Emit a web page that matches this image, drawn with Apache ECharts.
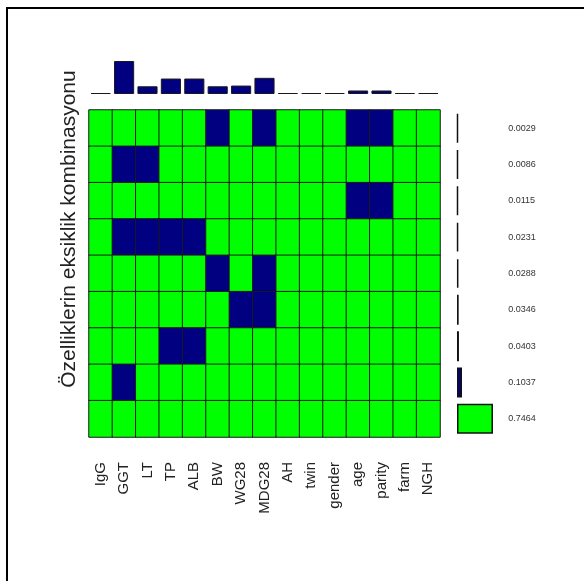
<!DOCTYPE html>
<html>
<head>
<meta charset="utf-8">
<style>
  html, body { margin: 0; padding: 0; background: #ffffff; }
  #chart { width: 584px; height: 581px; }
</style>
<script src="https://cdn.jsdelivr.net/npm/echarts@6/dist/echarts.min.js"></script>
</head>
<body>
<div id="chart"></div>
<script>
// Variables in the data set
const variables = ['IgG', 'GGT', 'LT', 'TP', 'ALB', 'BW', 'WG28', 'MDG28', 'AH', 'twin', 'gender', 'age', 'parity', 'farm', 'NGH'];

// Proportion of missing values per variable (top bars)
const missingProp = [0, 0.1354, 0.0317, 0.0634, 0.0634, 0.0317, 0.0346, 0.0663, 0, 0, 0, 0.0144, 0.0144, 0, 0];

// Missingness patterns, top to bottom (1 = missing)
const patterns = [
  [0, 0, 0, 0, 0, 1, 0, 1, 0, 0, 0, 1, 1, 0, 0],
  [0, 1, 1, 0, 0, 0, 0, 0, 0, 0, 0, 0, 0, 0, 0],
  [0, 0, 0, 0, 0, 0, 0, 0, 0, 0, 0, 1, 1, 0, 0],
  [0, 1, 1, 1, 1, 0, 0, 0, 0, 0, 0, 0, 0, 0, 0],
  [0, 0, 0, 0, 0, 1, 0, 1, 0, 0, 0, 0, 0, 0, 0],
  [0, 0, 0, 0, 0, 0, 1, 1, 0, 0, 0, 0, 0, 0, 0],
  [0, 0, 0, 1, 1, 0, 0, 0, 0, 0, 0, 0, 0, 0, 0],
  [0, 1, 0, 0, 0, 0, 0, 0, 0, 0, 0, 0, 0, 0, 0],
  [0, 0, 0, 0, 0, 0, 0, 0, 0, 0, 0, 0, 0, 0, 0]
];

// Share of observations with each pattern
const patternProp = [0.0029, 0.0086, 0.0115, 0.0231, 0.0288, 0.0346, 0.0403, 0.1037, 0.7464];

const yTitle = 'Özelliklerin eksiklik kombinasyonu';

const NAVY = '#000080';
const GREEN = '#00ff00';
const EDGE = '#1a1a1a';
const FONT = '"Liberation Sans", Arial, sans-serif';

const rowIdx = patterns.map((_, i) => i);
const cells = [];
patterns.forEach((row, r) => row.forEach((v, c) => cells.push([c, r, v])));

const chart = echarts.init(document.getElementById('chart'), null, { renderer: 'canvas' });

const G_LEFT = 89, G_TOP = 110, G_W = 351, G_H = 327;

chart.setOption({
  animation: false,
  backgroundColor: '#ffffff',
  textStyle: { fontFamily: FONT },
  grid: [
    { left: G_LEFT, top: G_TOP, width: G_W, height: G_H },          // pattern matrix
    { left: G_LEFT, top: 55, width: G_W, height: 39 },              // missing proportion bars
    { left: 457, top: G_TOP, width: 48.2, height: G_H }             // pattern frequency bars
  ],
  xAxis: [
    {
      gridIndex: 0, type: 'category', data: variables,
      axisLine: { show: false }, axisTick: { show: false }, splitLine: { show: false },
      axisLabel: { rotate: 90, margin: 25, fontSize: 15, color: '#222', fontFamily: FONT, interval: 0 }
    },
    {
      gridIndex: 1, type: 'category', data: variables,
      axisLine: { show: false }, axisTick: { show: false }, axisLabel: { show: false }
    },
    {
      gridIndex: 2, type: 'value', min: 0, max: 1,
      axisLine: { show: false }, axisTick: { show: false }, axisLabel: { show: false }, splitLine: { show: false }
    }
  ],
  yAxis: [
    {
      gridIndex: 0, type: 'category', data: rowIdx, inverse: true,
      axisLine: { show: false }, axisTick: { show: false }, axisLabel: { show: false }, splitLine: { show: false }
    },
    {
      gridIndex: 1, type: 'value', min: 0, max: 0.16,
      axisLine: { show: false }, axisTick: { show: false }, axisLabel: { show: false }, splitLine: { show: false }
    },
    {
      gridIndex: 2, type: 'category', inverse: true, position: 'right',
      data: patternProp.map(p => p.toFixed(4)),
      axisLine: { show: false }, axisTick: { show: false }, splitLine: { show: false },
      axisLabel: { margin: 3, fontSize: 9, color: '#333', fontFamily: FONT }
    }
  ],
  visualMap: {
    show: false, seriesIndex: 0, type: 'piecewise', dimension: 2,
    pieces: [{ value: 0, color: GREEN }, { value: 1, color: NAVY }]
  },
  series: [
    {
      type: 'heatmap', xAxisIndex: 0, yAxisIndex: 0, data: cells,
      itemStyle: { borderColor: EDGE, borderWidth: 1 },
      emphasis: { disabled: true }
    },
    {
      type: 'bar', xAxisIndex: 1, yAxisIndex: 1, data: missingProp,
      barCategoryGap: '14%', barMinHeight: 1,
      itemStyle: { color: NAVY, borderColor: EDGE, borderWidth: 1 }
    },
    {
      type: 'bar', xAxisIndex: 2, yAxisIndex: 2,
      data: patternProp.map((p, i) => ({
        value: p,
        itemStyle: { color: patterns[i].some(v => v === 1) ? NAVY : GREEN }
      })),
      barWidth: 30, barMinHeight: 1,
      itemStyle: { borderColor: '#111', borderWidth: 1.5 }
    }
  ],
  graphic: [
    {
      type: 'rect', silent: true,
      shape: { x: 7, y: 8, width: 700, height: 700 },
      style: { fill: 'none', stroke: '#000', lineWidth: 2 }
    },
    {
      type: 'text', silent: true,
      x: 69, y: 229, rotation: Math.PI / 2,
      style: {
        text: yTitle, fill: '#222', font: '21px ' + FONT,
        textAlign: 'center', textVerticalAlign: 'middle'
      }
    }
  ]
});
</script>
</body>
</html>
